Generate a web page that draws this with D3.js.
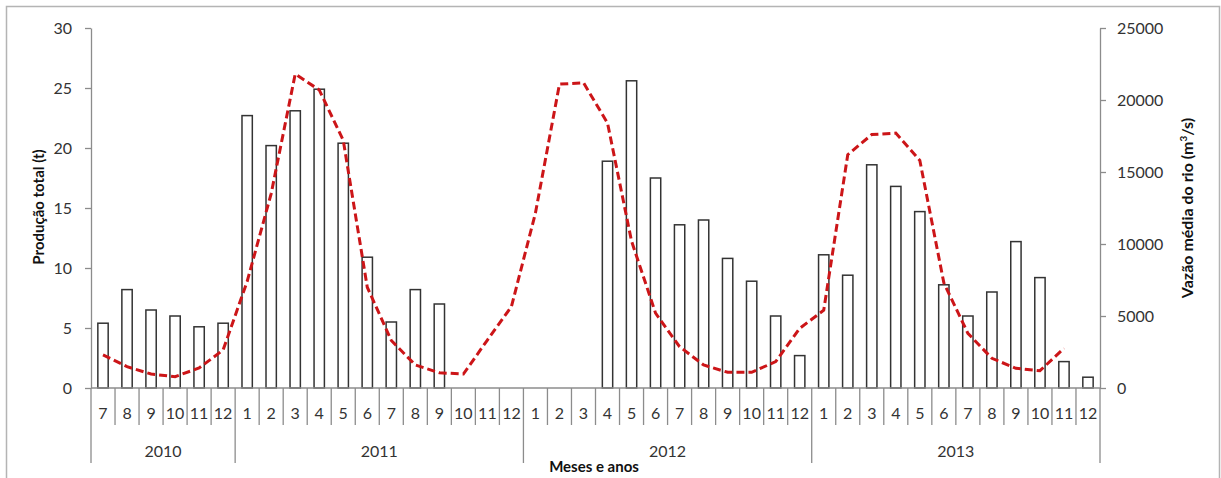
<!DOCTYPE html>
<html>
<head>
<meta charset="utf-8">
<script src="https://cdn.jsdelivr.net/npm/d3@7"></script>
<style>
  body { margin: 0; background: #fff; }
  text { font-family: Lato, "Open Sans", sans-serif; }
</style>
</head>
<body>
<script>
/* -----------------------------------------------------
 *  Data
 ----------------------------------------------------- */
const years = ["2010", "2011", "2012", "2013"];
const months = [
  "7", "8", "9", "10", "11", "12",
  "1", "2", "3", "4", "5", "6", "7", "8", "9", "10", "11", "12",
  "1", "2", "3", "4", "5", "6", "7", "8", "9", "10", "11", "12",
  "1", "2", "3", "4", "5", "6", "7", "8", "9", "10", "11", "12"
];
// Produção total (t)
const production = [
  5.4, 8.2, 6.5, 6.0, 5.1, 5.4,
  22.7, 20.2, 23.1, 24.9, 20.4, 10.9, 5.5, 8.2, 7.0, null, null, null,
  null, null, null, 18.9, 25.6, 17.5, 13.6, 14.0, 10.8, 8.9, 6.0, 2.7,
  11.1, 9.4, 18.6, 16.8, 14.7, 8.6, 6.0, 8.0, 12.2, 9.2, 2.2, 0.9
];
// Vazão média do rio (m3/s)
const flow = [
  2300, 1480, 970, 790, 1390, 2640,
  7400, 13500, 21800, 20700, 17200, 7000, 3300, 1600, 1060, 970, 3330, 5650,
  12150, 21100, 21200, 18400, 10200, 5200, 2870, 1600, 1090, 1090, 1830, 4140,
  5400, 16200, 17600, 17700, 15800, 7300, 3800, 2060, 1370, 1200, 2760, null
];
const leftTicks = [0, 5, 10, 15, 20, 25, 30];
const rightTicks = [0, 5000, 10000, 15000, 20000, 25000];

/* -----------------------------------------------------
 *  SVG setup
 ----------------------------------------------------- */
const width = 1221;
const height = 478;
const plotLeft = 91, plotRight = 1100, plotTop = 28, plotBottom = 388;
const axisColor = "#8c8c8c";

const svg = d3
  .select("body")
  .append("svg")
  .attr("width", width)
  .attr("height", height);

// outer frame (no bottom edge visible)
svg
  .append("path")
  .attr("d", `M6.5,${height}V6.5H1219.5V${height}`)
  .attr("fill", "none")
  .attr("stroke", "#b4b4b4")
  .attr("stroke-width", 1.5);

const idx = months.map((m, i) => i);

const x = d3
  .scaleBand()
  .domain(idx)
  .range([plotLeft, plotRight])
  .paddingInner(0.57)
  .paddingOuter(0.285);

const yL = d3.scaleLinear().domain([0, 30]).range([plotBottom, plotTop]);
const yR = d3.scaleLinear().domain([0, 25000]).range([plotBottom, plotTop]);

const cx = (i) => x(i) + x.bandwidth() / 2;
const edge = (i) => plotLeft + i * x.step();

/* -----------------------------------------------------
 *  Bars
 ----------------------------------------------------- */
svg
  .selectAll(".bar")
  .data(idx.filter((i) => production[i] != null))
  .enter()
  .append("rect")
  .attr("class", "bar")
  .attr("x", (i) => x(i))
  .attr("y", (i) => yL(production[i]))
  .attr("width", x.bandwidth())
  .attr("height", (i) => yL(0) - yL(production[i]))
  .attr("fill", "#fff")
  .attr("stroke", "#333")
  .attr("stroke-width", 1.5);

/* -----------------------------------------------------
 *  Axes
 ----------------------------------------------------- */
const gL = svg
  .append("g")
  .attr("transform", `translate(${plotLeft},0)`)
  .call(d3.axisLeft(yL).tickValues(leftTicks).tickSize(6).tickSizeOuter(0).tickPadding(13));

const gR = svg
  .append("g")
  .attr("transform", `translate(${plotRight},0)`)
  .call(
    d3.axisRight(yR).tickValues(rightTicks).tickFormat(d3.format("d"))
      .tickSize(6).tickSizeOuter(0).tickPadding(11)
  );

[gL, gR].forEach((g) => {
  g.selectAll("path, line").attr("stroke", axisColor).attr("stroke-width", 1.3);
  g.selectAll("text")
    .attr("fill", "#333")
    .style("font-size", "16px")
    .style("font-family", "Lato, 'Open Sans', sans-serif");
});

// baseline
svg
  .append("line")
  .attr("x1", plotLeft)
  .attr("x2", plotRight)
  .attr("y1", yL(0))
  .attr("y2", yL(0))
  .attr("stroke", axisColor)
  .attr("stroke-width", 1.3);

/* -----------------------------------------------------
 *  Line (vazão)
 ----------------------------------------------------- */
const line = d3
  .line()
  .defined((i) => flow[i] != null)
  .x((i) => cx(i))
  .y((i) => yR(flow[i]));

svg
  .append("path")
  .datum(idx)
  .attr("d", line)
  .attr("fill", "none")
  .attr("stroke", "#cc1518")
  .attr("stroke-width", 3)
  .attr("stroke-dasharray", "8,4");

/* -----------------------------------------------------
 *  Category axis (months, years)
 ----------------------------------------------------- */
const yearOf = [];
let yi = 0;
months.forEach((m, i) => {
  if (i > 0 && m === "1") yi++;
  yearOf.push(yi);
});

// separators between months; longer ones between years
for (let i = 0; i <= months.length; i++) {
  const isYear = i === 0 || i === months.length || months[i] === "1";
  svg
    .append("line")
    .attr("x1", edge(i))
    .attr("x2", edge(i))
    .attr("y1", plotBottom)
    .attr("y2", isYear ? 463 : 425)
    .attr("stroke", axisColor)
    .attr("stroke-width", 1.3);
}

svg
  .selectAll(".month")
  .data(idx)
  .enter()
  .append("text")
  .attr("class", "month")
  .attr("x", (i) => cx(i))
  .attr("y", 419)
  .attr("text-anchor", "middle")
  .attr("fill", "#333")
  .style("font-size", "16px")
  .text((i) => months[i]);

svg
  .selectAll(".year")
  .data(years)
  .enter()
  .append("text")
  .attr("class", "year")
  .attr("x", (d, k) => {
    const first = yearOf.indexOf(k);
    const last = yearOf.lastIndexOf(k);
    return (edge(first) + edge(last + 1)) / 2;
  })
  .attr("y", 457)
  .attr("text-anchor", "middle")
  .attr("fill", "#333")
  .style("font-size", "16px")
  .text((d) => d);

/* -----------------------------------------------------
 *  Titles
 ----------------------------------------------------- */
svg
  .append("text")
  .attr("x", 594)
  .attr("y", 472)
  .attr("text-anchor", "middle")
  .style("font-size", "15px")
  .style("font-weight", "bold")
  .attr("fill", "#111")
  .text("Meses e anos");

svg
  .append("text")
  .attr("transform", "translate(44,207) rotate(-90)")
  .attr("text-anchor", "middle")
  .style("font-size", "15px")
  .style("font-weight", "bold")
  .attr("fill", "#111")
  .text("Produção total (t)");

const rt = svg
  .append("text")
  .attr("transform", "translate(1193,208) rotate(-90)")
  .attr("text-anchor", "middle")
  .style("font-size", "16px")
  .style("font-weight", "bold")
  .attr("fill", "#111");
rt.append("tspan").text("Vazão média do rio (m");
rt.append("tspan").attr("dy", -6).style("font-size", "10px").text("3");
rt.append("tspan").attr("dy", 6).text("/s)");
</script>
</body>
</html>
